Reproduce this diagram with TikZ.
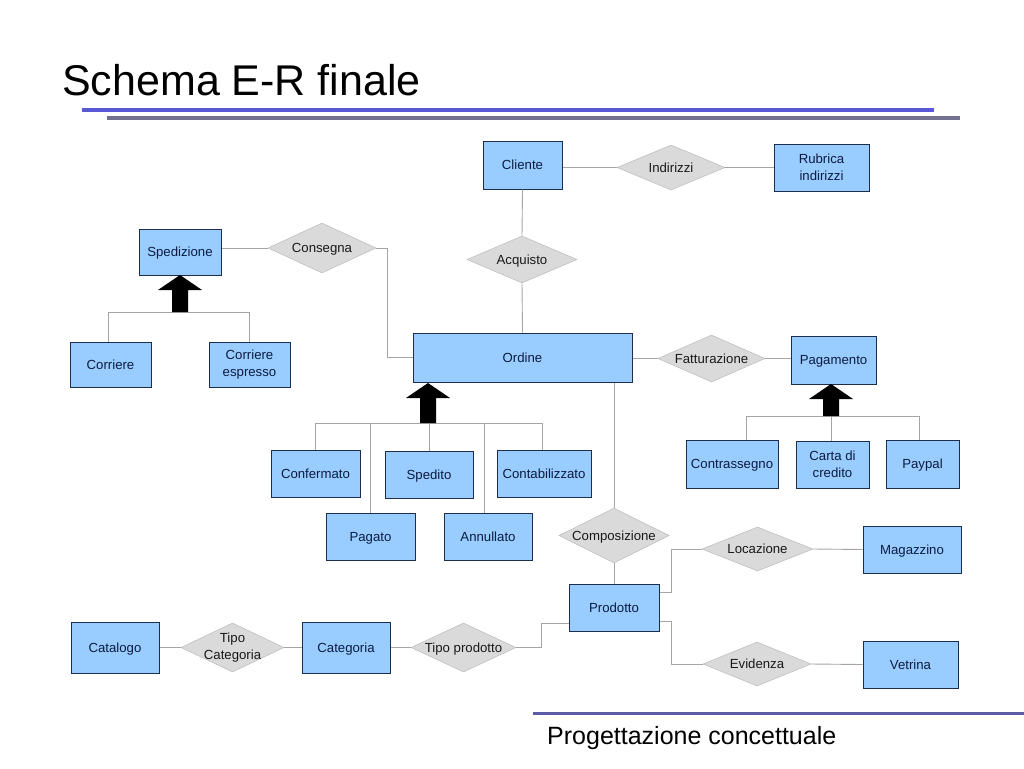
\documentclass[tikz,border=0pt]{standalone}
\usepackage{fontspec}
\setmainfont{Liberation Sans}
\usetikzlibrary{shapes.geometric}
\definecolor{entfill}{RGB}{153,204,255}
\definecolor{entdraw}{RGB}{30,45,75}
\definecolor{enttext}{RGB}{12,28,64}
\definecolor{relfill}{RGB}{218,218,218}
\definecolor{reldraw}{RGB}{192,192,192}
\definecolor{linkcol}{RGB}{165,165,165}
\definecolor{bluebar}{RGB}{88,88,215}
\definecolor{graybar}{RGB}{115,115,145}
\definecolor{footbar}{RGB}{90,90,165}
\newcommand\isaarrow[3]{\fill[isafill] (#1,#2) -- ++(22,15) -- ++(-14,0) -- ({#1+8},#3) -- ({#1-8},#3) -- ({#1-8},{#2+15}) -- ++(-14,0) -- cycle;}
\begin{document}
\begin{tikzpicture}[x=1pt,y=-1pt,
  ent/.style={rectangle, draw=entdraw, line width=1pt, fill=entfill, text=enttext,
    font=\fontsize{13.2}{16.5}\selectfont, align=center, inner sep=0pt},
  oneline/.style={text height=11.6pt, text depth=2.4pt},
  rel/.style={diamond, draw=reldraw, line width=0.6pt, fill=relfill, inner sep=0pt},
  reltext/.style={font=\fontsize{13.2}{16.5}\selectfont, text=black!90, align=center, inner sep=0pt},
  link/.style={draw=linkcol, line width=0.9pt},
  isafill/.style={fill=black}]
\useasboundingbox (0,0) rectangle (1024,768);
\fill[white] (0,0) rectangle (1024,768);

% title and bars
\node[anchor=base west, inner sep=0pt, font=\fontsize{43}{50}\selectfont] (title) at (62,95) {Schema E-R finale};
\draw[bluebar, line width=4pt] (82,109.5) -- (934,109.5);
\draw[graybar, line width=4pt] (107,117.5) -- (960,117.5);
\draw[footbar, line width=3pt] (533,713.5) -- (1024,713.5);
\node[anchor=base west, inner sep=0pt, font=\fontsize{25}{30}\selectfont] (footer) at (547,744) {Progettazione concettuale};

% entities
\node[ent, oneline, minimum width=79pt, minimum height=48pt] (cliente) at (522.5,165) {Cliente};
\node[ent, minimum width=95pt, minimum height=47pt] (rubrica) at (821.5,167.5) {Rubrica\\indirizzi};
\node[ent, oneline, minimum width=82pt, minimum height=46pt] (spedizione) at (180,252) {Spedizione};
\node[ent, oneline, minimum width=81pt, minimum height=45pt] (corriere) at (110.5,364.5) {Corriere};
\node[ent, minimum width=81pt, minimum height=45pt] (corresp) at (249.5,364.5) {Corriere\\espresso};
\node[ent, oneline, minimum width=219pt, minimum height=49pt] (ordine) at (522.5,357.5) {Ordine};
\node[ent, oneline, minimum width=85pt, minimum height=48pt] (pagamento) at (833.5,360) {Pagamento};
\node[ent, oneline, minimum width=89pt, minimum height=47pt] (confermato) at (315.5,473.5) {Confermato};
\node[ent, oneline, minimum width=88pt, minimum height=47pt] (spedito) at (429,474.5) {Spedito};
\node[ent, oneline, minimum width=94pt, minimum height=47pt] (contab) at (544,473.5) {Contabilizzato};
\node[ent, oneline, minimum width=89pt, minimum height=47pt] (pagato) at (370.5,536.5) {Pagato};
\node[ent, oneline, minimum width=88pt, minimum height=47pt] (annullato) at (488,536.5) {Annullato};
\node[ent, oneline, minimum width=92pt, minimum height=48pt] (contrassegno) at (732,464) {Contrassegno};
\node[ent, minimum width=73pt, minimum height=47pt] (carta) at (832.5,464.5) {Carta di\\credito};
\node[ent, oneline, minimum width=73pt, minimum height=48pt] (paypal) at (922.5,464) {Paypal};
\node[ent, oneline, minimum width=90pt, minimum height=47pt] (prodotto) at (614,607.5) {Prodotto};
\node[ent, oneline, minimum width=98pt, minimum height=47pt] (magazzino) at (912,549.5) {Magazzino};
\node[ent, oneline, minimum width=95pt, minimum height=47pt] (vetrina) at (910.5,664.5) {Vetrina};
\node[ent, oneline, minimum width=88pt, minimum height=51pt] (catalogo) at (115,647.5) {Catalogo};
\node[ent, oneline, minimum width=88pt, minimum height=51pt] (categoria) at (346,647.5) {Categoria};

% relationships
\node[rel, minimum width=108pt, minimum height=45pt, label={[reltext, oneline]center:Indirizzi}] (indirizzi) at (671,167.5) {};
\node[rel, minimum width=110pt, minimum height=47pt, label={[reltext, oneline]center:Acquisto}] (acquisto) at (522,259.5) {};
\node[rel, minimum width=108pt, minimum height=50pt, label={[reltext, oneline]center:Consegna}] (consegna) at (322,248) {};
\node[rel, minimum width=107pt, minimum height=47pt, label={[reltext, oneline]center:Fatturazione}] (fatturazione) at (711.5,358.5) {};
\node[rel, minimum width=110pt, minimum height=55pt, label={[reltext, oneline]center:Composizione}] (composizione) at (614,535.5) {};
\node[rel, minimum width=111pt, minimum height=44pt, label={[reltext, oneline]center:Locazione}] (locazione) at (757.5,549) {};
\node[rel, minimum width=108pt, minimum height=44pt, label={[reltext, oneline]center:Evidenza}] (evidenza) at (757,664) {};
\node[rel, minimum width=103pt, minimum height=49pt, label={[reltext]center:{Tipo\\Categoria}}] (tipocat) at (232.5,647.5) {};
\node[rel, minimum width=105pt, minimum height=49pt, label={[reltext, oneline]center:Tipo prodotto}] (tipoprod) at (463.5,647.5) {};

% connectors
\draw[link] (indirizzi.west) -- (indirizzi.west -| cliente.east);
\draw[link] (indirizzi.east) -- (rubrica.west);
\draw[link] (cliente.south) -- (acquisto.north);
\draw[link] (acquisto.south) -- (ordine.north);
\draw[link] (consegna.west) -- (consegna.west -| spedizione.east);
\draw[link] (consegna.east) -- ++(11,0) |- (ordine.west);
\draw[link] (ordine.east |- fatturazione.west) -- (fatturazione.west);
\draw[link] (fatturazione.east) -- (fatturazione.east -| pagamento.west);
\draw[link] (composizione.north) -- (composizione.north |- ordine.south);
\draw[link] (composizione.south) -- (prodotto.north);
\draw[link] ([yshift=15.5pt]prodotto.east) -- ++(12,0) |- (locazione.west);
\draw[link] ([yshift=-13.5pt]prodotto.east) -- ++(12,0) |- (evidenza.west);
\draw[link] (locazione.east) -- (magazzino.west);
\draw[link] (evidenza.east) -- (vetrina.west);
\draw[link] (tipoprod.east) -- ++(25,0) |- ([yshift=-15.5pt]prodotto.west);
\draw[link] (catalogo.east) -- (tipocat.west);
\draw[link] (tipocat.east) -- (categoria.west);
\draw[link] (categoria.east) -- (tipoprod.west);

% generalisations
\coordinate (jS) at (180,312);
\coordinate (jO) at (428,423);
\coordinate (jP) at (831,416);
\draw[link] ([xshift=-2.5pt]corriere.north) -- ([xshift=-2.5pt]corriere.north |- jS) -| (corresp.north);
\draw[link] (confermato.north) -- (confermato.north |- jO) -| ([xshift=-2pt]contab.north);
\draw[link] (pagato.north) -- (pagato.north |- jO);
\draw[link] (spedito.north) -- (spedito.north |- jO);
\draw[link] ([xshift=-4pt]annullato.north) -- ([xshift=-4pt]annullato.north |- jO);
\draw[link] ([xshift=14pt]contrassegno.north) -- ([xshift=14pt]contrassegno.north |- jP) -| ([xshift=-3.5pt]paypal.north);
\draw[link] ([xshift=-1.5pt]carta.north) -- ([xshift=-1.5pt]carta.north |- jP);
\isaarrow{180}{275}{312}
\isaarrow{428}{383}{423}
\isaarrow{831}{384}{416}
\end{tikzpicture}
\end{document}
